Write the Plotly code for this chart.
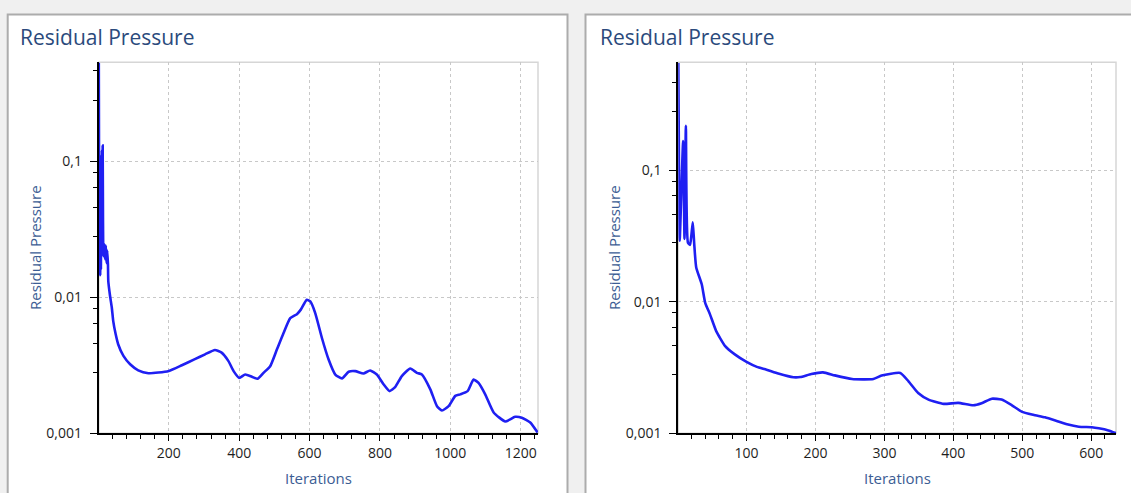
import plotly.graph_objects as go

# ---------------- data ----------------
left_iter = [1, 2, 3, 4, 5, 6, 7, 8, 9, 10, 11, 12, 13, 14, 15, 17, 19, 21, 23, 25, 27,
             28, 33, 38, 42, 49, 56, 71, 90, 113, 142, 170, 200,
             237, 274, 303, 331, 350, 369,
             384, 400, 417, 436, 452, 469, 488, 507, 526, 545, 564, 575, 592, 602, 616,
             635, 654, 673, 692, 711, 730, 753, 772, 791, 810, 827, 843, 862, 886, 905,
             919, 943, 962, 976, 995, 1014, 1028, 1049, 1066, 1080, 1099, 1123, 1156, 1184,
             1203, 1227, 1248]
left_res = [0.53, 0.04, 0.015, 0.07, 0.0145, 0.09, 0.016, 0.11, 0.02, 0.12, 0.025, 0.13, 0.035,
            0.02, 0.022, 0.0245, 0.019, 0.024, 0.0178, 0.022, 0.0175,
            0.0131, 0.0102, 0.00836, 0.00667, 0.00533, 0.00451, 0.0037, 0.00321, 0.0029,
            0.00276, 0.00279, 0.00287,
            0.00316, 0.0035, 0.0038, 0.00409, 0.00391, 0.0034,
            0.00286, 0.00255, 0.0027, 0.0026, 0.00251, 0.00278, 0.00311, 0.00412, 0.00546,
            0.00702, 0.0075, 0.0081, 0.00957, 0.0093, 0.00764,
            0.00501, 0.00348, 0.0027, 0.00253, 0.00283, 0.00286, 0.00275, 0.00289, 0.0027,
            0.00229, 0.00204, 0.00218, 0.00263, 0.00299, 0.00278,
            0.0027, 0.0021, 0.00158, 0.00147, 0.00158, 0.00188, 0.00193, 0.00204, 0.00248,
            0.00234, 0.00193, 0.00142, 0.00122, 0.00132,
            0.0013, 0.0012, 0.00101]

right_iter = [1, 2, 3, 8, 10, 12, 15, 18, 20, 22, 24, 27, 35, 40, 47, 56, 69, 83, 100, 115,
              129, 146, 168, 178, 194, 211, 228, 253, 284, 296, 323, 335, 349, 364, 386, 407,
              429, 441, 456, 470, 485, 499, 516, 533, 548, 565, 582, 601, 611, 625, 636]
right_res = [0.65, 0.1, 0.029, 0.166, 0.03, 0.217, 0.028, 0.027, 0.032, 0.040,
             0.028, 0.0182, 0.01355, 0.0098, 0.0080, 0.00597, 0.00459, 0.00397, 0.00348, 0.00319,
             0.00304, 0.00284, 0.00266, 0.00267, 0.00282, 0.0029, 0.00275, 0.00258, 0.00258,
             0.00274, 0.00287, 0.00248, 0.00202, 0.0018, 0.00167, 0.0017,
             0.00163, 0.00169, 0.00183, 0.0018, 0.00163, 0.00146, 0.00138, 0.00132, 0.00125,
             0.00117, 0.00112, 0.00111, 0.00109, 0.00105, 0.001]

y_tickvals = [0.001, 0.01, 0.1]
y_ticktext = ["0,001", "0,01", "0,1"]
y_minor_vals = [0.0028, 0.0046, 0.0064, 0.0082, 0.028, 0.046, 0.064, 0.082, 0.28, 0.46]

chart_title = "Residual Pressure"
x_title = "Iterations"
y_title = "Residual Pressure"

# ---------------- style ----------------
W, H = 1131, 493
HC = 483  # effective rendered height used for paper-coordinate conversion
FONT = "Open Sans"
LINE_COLOR = "#1f1ff2"
TITLE_COLOR = "#2b4a7c"
AXTITLE_COLOR = "#3c5d94"
GRID_COLOR = "#c8c8c8"


def px_x(p):
    return p / W


def px_y(p):
    return (HC - p) / HC


fig = go.Figure()
fig.add_trace(go.Scatter(x=left_iter, y=left_res, mode="lines",
                         line=dict(color=LINE_COLOR, width=2.6, shape="spline", smoothing=0.5),
                         xaxis="x", yaxis="y", showlegend=False))
fig.add_trace(go.Scatter(x=right_iter, y=right_res, mode="lines",
                         line=dict(color=LINE_COLOR, width=2.6, shape="spline", smoothing=0.5),
                         xaxis="x2", yaxis="y2", showlegend=False))

tickfont = dict(family=FONT, size=14, color="#1e1e1e")


def xaxis(domain, rng, dtick, minor_dtick, anchor):
    return dict(domain=domain, range=rng, anchor=anchor, dtick=dtick, tick0=0,
                showline=True, linecolor="black", linewidth=2,
                ticks="outside", ticklen=6, tickwidth=1, tickcolor="black",
                showgrid=True, gridcolor=GRID_COLOR, griddash="3px,3px", gridwidth=1,
                zeroline=False, tickfont=tickfont,
                minor=dict(dtick=minor_dtick, tick0=0, ticks="outside", ticklen=4,
                           tickcolor="black", tickwidth=1, showgrid=False))


def yaxis(domain, rng, anchor):
    return dict(domain=domain, range=rng, anchor=anchor, type="log",
                tickmode="array", tickvals=y_tickvals, ticktext=y_ticktext,
                showline=True, linecolor="black", linewidth=2,
                ticks="outside", ticklen=7, tickwidth=1, tickcolor="black",
                ticklabelstandoff=5,
                showgrid=True, gridcolor=GRID_COLOR, griddash="3px,3px", gridwidth=1,
                zeroline=False, tickfont=tickfont,
                minor=dict(tickmode="array", tickvals=y_minor_vals, ticks="outside",
                           ticklen=4, tickcolor="black", tickwidth=1, showgrid=False))


ydom = [px_y(432.3), px_y(62)]
fig.update_layout(
    width=W, height=H,
    margin=dict(l=0, r=0, t=0, b=0),
    paper_bgcolor="#f0f0f0",
    plot_bgcolor="white",
    xaxis=xaxis([px_x(98.8), px_x(538)], [1, 1249], 200, 40, "y"),
    yaxis=yaxis(ydom, [-3, -0.272], "x"),
    xaxis2=xaxis([px_x(678.3), px_x(1116)], [1, 636], 100, 20, "y2"),
    yaxis2=yaxis(ydom, [-3, -0.18], "x2"),
)

shapes = []
# panel backgrounds
for x0, x1 in [(7.7, 567.5), (585.5, 1145)]:
    shapes.append(dict(type="rect", xref="paper", yref="paper",
                       x0=px_x(x0), x1=px_x(x1), y0=-0.1, y1=px_y(14.5),
                       fillcolor="white", line=dict(color="#acacac", width=2), layer="below"))
# light plot-area frames
for xr, yr in [("x domain", "y domain"), ("x2 domain", "y2 domain")]:
    shapes.append(dict(type="rect", xref=xr, yref=yr, x0=0, x1=1, y0=0, y1=1,
                       line=dict(color="#d6d6d6", width=1.5), layer="below"))
fig.update_layout(shapes=shapes)

ann = []
for tx in [18, 598]:
    ann.append(dict(text=chart_title, xref="paper", yref="paper", x=px_x(tx), y=px_y(36.5),
                    xanchor="left", yanchor="middle", showarrow=False,
                    font=dict(family=FONT, size=21, color=TITLE_COLOR)))
for cx in [318.5, 897]:
    ann.append(dict(text=x_title, xref="paper", yref="paper", x=px_x(cx), y=px_y(477),
                    xanchor="center", yanchor="middle", showarrow=False,
                    font=dict(family=FONT, size=15, color=AXTITLE_COLOR)))
for cx in [34.5, 613.5]:
    ann.append(dict(text=y_title, xref="paper", yref="paper", x=px_x(cx), y=px_y(247),
                    xanchor="center", yanchor="middle", showarrow=False, textangle=-90,
                    font=dict(family=FONT, size=15, color=AXTITLE_COLOR)))
fig.update_layout(annotations=ann)

page_fix = (
    "var d=document.documentElement,b=document.body;"
    "[d,b].forEach(function(e){e.style.margin='0';e.style.padding='0';"
    "e.style.overflow='hidden';});"
)

fig.write_html("out.html", config={"displayModeBar": False}, post_script=page_fix)
